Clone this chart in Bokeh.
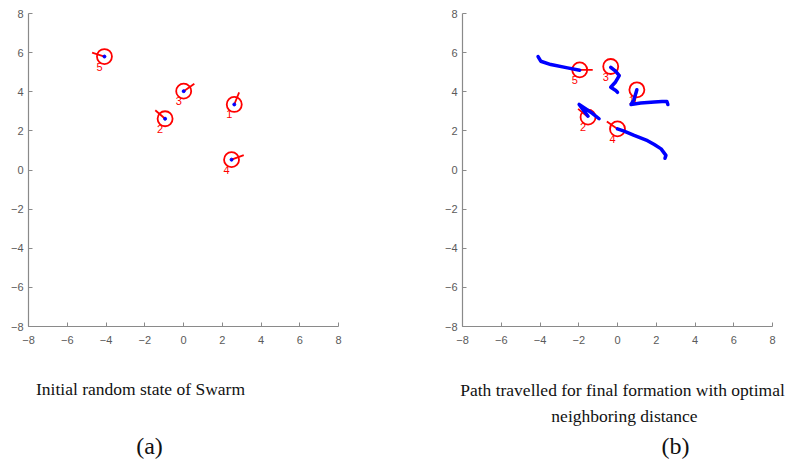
from bokeh.plotting import figure
from bokeh.layouts import row, column
from bokeh.models import Label, ColumnDataSource, FixedTicker
from bokeh.core.properties import value
from bokeh.embed import file_html
from bokeh.resources import INLINE

# ---- data ----
agent_ids = ["1", "2", "3", "4", "5"]

# panel (a): initial random state
init_x = [2.62, -0.95, 0.01, 2.48, -4.08]
init_y = [3.35, 2.62, 4.03, 0.53, 5.80]
init_heading = [68, 139, 35, 20, 162]

# panel (b): final formation
final_x = [1.00, -1.52, -0.35, 0.00, -1.95]
final_y = [4.10, 2.70, 5.29, 2.10, 5.12]
final_heading = [-100, 140, -44, 145, 0]

# travelled paths (agent 1..5)
path1_x = [2.60, 2.55, 2.30, 1.90, 1.20, 0.70, 0.85, 1.00]
path1_y = [3.35, 3.50, 3.50, 3.47, 3.42, 3.35, 3.60, 4.10]
path2_x = [-0.95, -1.30, -1.98, -1.75, -1.52]
path2_y = [2.62, 2.90, 3.35, 3.05, 2.75]
path3_x = [0.00, -0.09, -0.35, -0.10, 0.09, -0.10, -0.35]
path3_y = [3.97, 4.06, 4.23, 4.50, 4.83, 5.05, 5.25]
path4_x = [2.45, 2.50, 2.25, 1.90, 1.55, 0.86, 0.34, 0.00]
path4_y = [0.60, 0.75, 1.08, 1.30, 1.50, 1.77, 1.99, 2.10]
path5_x = [-4.10, -3.96, -3.44, -2.58, -1.95]
path5_y = [5.80, 5.56, 5.39, 5.22, 5.10]

axis_ticks = [-8, -6, -4, -2, 0, 2, 4, 6, 8]

caption_a = "Initial random state of Swarm"
caption_b1 = "Path travelled for final formation with optimal"
caption_b2 = "neighboring distance"

SERIF = "Liberation Serif"
SANS = "Liberation Sans"
AXIS_GRAY = "#8a8a8a"

LEFT_W = 410
RIGHT_W = 380
PANEL_H = 366
CAP_H = 94


def make_panel(border_left, border_right):
    p = figure(frame_width=310, frame_height=313,
               x_range=(-8, 8), y_range=(-8, 8),
               min_border_left=border_left, min_border_right=border_right,
               min_border_top=13, min_border_bottom=PANEL_H - 13 - 313,
               output_backend="svg", toolbar_location=None)
    p.outline_line_color = None
    p.grid.visible = False
    for ax in (p.xaxis, p.yaxis):
        ax.ticker = FixedTicker(ticks=axis_ticks)
        ax.axis_line_color = AXIS_GRAY
        ax.axis_line_width = 1.2
        ax.major_tick_line_color = AXIS_GRAY
        ax.major_tick_in = 4
        ax.major_tick_out = 0
        ax.minor_tick_line_color = None
        ax.major_label_text_color = "#5a5a5a"
        ax.major_label_text_font = SANS
        ax.major_label_text_font_size = "11px"
    p.xaxis.major_label_standoff = 9
    p.yaxis.major_label_standoff = 5
    return p


def draw_agents(p, xs, ys, headings):
    src = ColumnDataSource(dict(x=xs, y=ys, a=headings, t=agent_ids))
    p.ray(x="x", y="y", length=13, length_units="screen", angle="a",
          angle_units="deg", line_color="red", line_width=1.8, source=src)
    p.scatter(x="x", y="y", size=15, marker="circle", fill_color=None,
              line_color="red", line_width=1.8, source=src)
    p.text(x="x", y="y", text="t", x_offset=-5, y_offset=10,
           text_align="center", text_baseline="middle", text_color="red",
           text_font=value(SANS), text_font_size="11px", source=src)
    return src


def caption_fig(width):
    c = figure(width=width, height=CAP_H, x_range=(0, width), y_range=(0, CAP_H),
               min_border=0, output_backend="svg", toolbar_location=None)
    c.axis.visible = False
    c.grid.visible = False
    c.outline_line_color = None
    return c


def caption(c, text, x, y, size):
    c.add_layout(Label(x=x, y=y, text=text, text_align="center",
                       text_baseline="alphabetic", text_font=SERIF,
                       text_font_size=size, text_color="#111111"))


# ---- panel (a) ----
pa = make_panel(28, LEFT_W - 28 - 310)
src_a = draw_agents(pa, init_x, init_y, init_heading)
pa.scatter(x="x", y="y", size=3, marker="circle", color="blue", source=src_a)

# ---- panel (b) ----
pb = make_panel(52, RIGHT_W - 52 - 310)
draw_agents(pb, final_x, final_y, final_heading)
pb.multi_line(xs=[path1_x, path2_x, path3_x, path4_x, path5_x],
              ys=[path1_y, path2_y, path3_y, path4_y, path5_y],
              line_color="blue", line_width=3.5, line_cap="round",
              line_join="round")

# ---- captions ----
ca = caption_fig(LEFT_W)
caption(ca, caption_a, 140, 72, "17.5px")
caption(ca, "(a)", 149, 15, "24px")

cb = caption_fig(RIGHT_W)
caption(cb, caption_b1, 212, 71, "17.5px")
caption(cb, caption_b2, 214, 45, "17.5px")
caption(cb, "(b)", 265, 15, "24px")

layout = column(row(pa, pb), row(ca, cb))
open("out.html", "w").write(file_html(layout, INLINE))
